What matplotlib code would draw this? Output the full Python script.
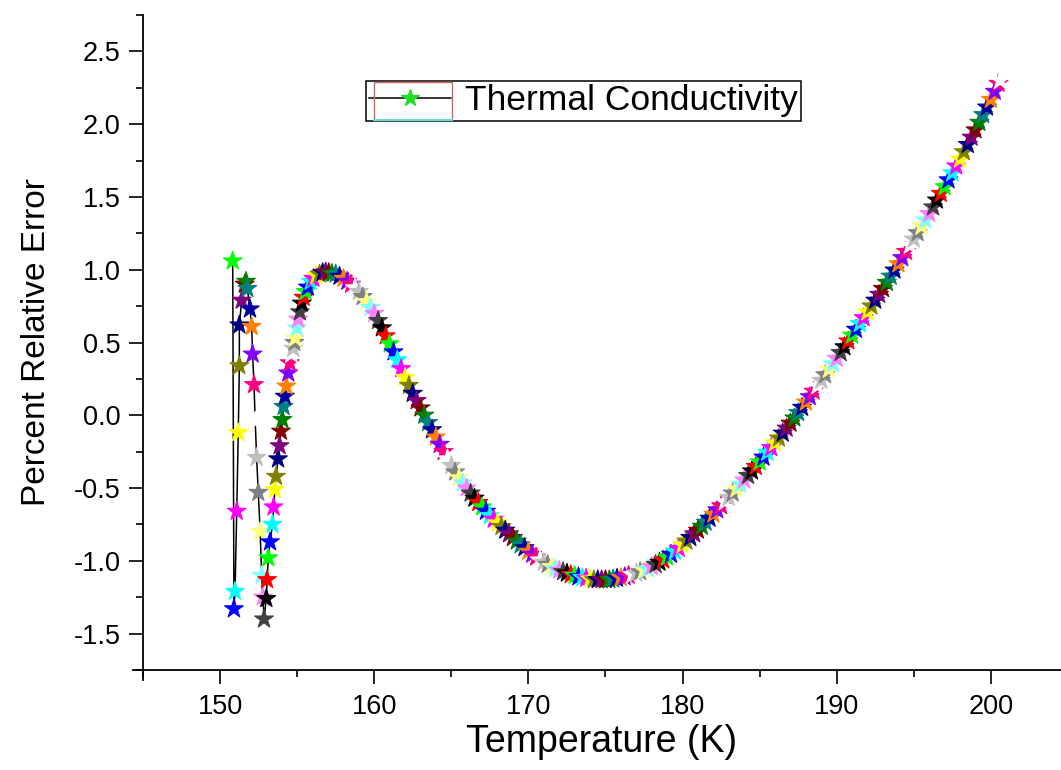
import matplotlib
matplotlib.use('Agg')
import matplotlib.pyplot as plt
from matplotlib.ticker import MultipleLocator
from matplotlib.lines import Line2D
from matplotlib.patches import Rectangle

plt.rcParams['font.family'] = ['Liberation Sans', 'DejaVu Sans']
plt.rcParams['axes.unicode_minus'] = False

# temperature (K) and percent relative error, in the order the points were recorded
temp = [
    150.82, 150.90, 150.97, 151.08, 151.18, 151.25, 151.25, 151.40, 151.60, 151.68,
    151.77, 151.94, 152.05, 152.11, 152.20, 152.28, 152.37, 152.48, 152.60, 152.70,
    152.78, 152.85, 153.00, 153.05,
    153.13, 153.24, 153.40, 153.47, 153.56, 153.63, 153.76, 153.86, 153.95, 154.04,
    154.12, 154.20, 154.30, 154.42, 154.52, 154.62, 154.75, 154.82, 154.88, 154.98,
    155.07, 155.18, 155.30, 155.42, 155.55, 155.70, 155.88, 156.05, 156.25, 156.45,
    156.65, 156.85, 157.05,
    157.25, 157.50, 157.75, 158.00, 158.25, 158.50, 158.75, 159.00,
    159.25, 159.50, 159.75, 160.00, 160.25, 160.50, 160.75, 161.00,
    161.25, 161.50, 161.75, 162.00, 162.25, 162.50, 162.75, 163.00,
    163.25, 163.50, 163.75, 164.00, 164.25, 164.50, 164.75, 165.00,
    165.25, 165.50, 165.75, 166.00, 166.25, 166.50, 166.75, 167.00,
    167.25, 167.50, 167.75, 168.00, 168.25, 168.50, 168.75, 169.00,
    169.25, 169.50, 169.75, 170.00, 170.25, 170.50, 170.75, 171.00,
    171.25, 171.50, 171.75, 172.00, 172.25, 172.50, 172.75, 173.00,
    173.25, 173.50, 173.75, 174.00, 174.25, 174.50, 174.75, 175.00,
    175.25, 175.50, 175.75, 176.00, 176.25, 176.50, 176.75, 177.00,
    177.25, 177.50, 177.75, 178.00, 178.25, 178.50, 178.75, 179.00,
    179.25, 179.50, 179.75, 180.00, 180.25, 180.50, 180.75, 181.00,
    181.25, 181.50, 181.75, 182.00, 182.25, 182.50, 182.75, 183.00,
    183.25, 183.50, 183.75, 184.00, 184.25, 184.50, 184.75, 185.00,
    185.25, 185.50, 185.75, 186.00, 186.25, 186.50, 186.75, 187.00,
    187.25, 187.50, 187.75, 188.00, 188.25, 188.50, 188.75, 189.00,
    189.25, 189.50, 189.75, 190.00, 190.25, 190.50, 190.75, 191.00,
    191.25, 191.50, 191.75, 192.00, 192.25, 192.50, 192.75, 193.00,
    193.25, 193.50, 193.75, 194.00, 194.25, 194.50, 194.75, 195.00,
    195.25, 195.50, 195.75, 196.00, 196.25, 196.50, 196.75, 197.00,
    197.25, 197.50, 197.75, 198.00, 198.25, 198.50, 198.75, 199.00,
    199.25, 199.50, 199.75, 200.00, 200.25, 200.50, 200.60,
]
err = [
    1.06, -1.33, -1.21, -0.66, -0.12, 0.34, 0.62, 0.79, 0.90, 0.92,
    0.87, 0.73, 0.61, 0.42, 0.21, -0.04, -0.29, -0.53, -0.80, -1.10,
    -1.25, -1.40, -1.26, -1.13,
    -0.98, -0.87, -0.75, -0.63, -0.51, -0.42, -0.30, -0.21, -0.11, -0.03,
    0.06, 0.13, 0.20, 0.29, 0.36, 0.42, 0.46, 0.50, 0.53, 0.60,
    0.66, 0.71, 0.77, 0.81, 0.85, 0.88, 0.92, 0.94, 0.96, 0.97,
    0.98, 0.985, 0.98,
    0.975, 0.97, 0.955, 0.94, 0.92, 0.90, 0.875, 0.85,
    0.815, 0.78, 0.74, 0.70, 0.65, 0.60, 0.545, 0.49,
    0.435, 0.38, 0.32, 0.26, 0.205, 0.15, 0.10, 0.05,
    0.00, -0.05, -0.10, -0.15, -0.20, -0.25, -0.30, -0.345,
    -0.39, -0.43, -0.465, -0.50, -0.535, -0.57, -0.60, -0.63,
    -0.66, -0.69, -0.715, -0.74, -0.765, -0.79, -0.815, -0.84,
    -0.865, -0.89, -0.91, -0.935, -0.955, -0.975, -0.995, -1.01,
    -1.025, -1.04, -1.055, -1.065, -1.075, -1.085, -1.095, -1.10,
    -1.11, -1.115, -1.12, -1.125, -1.13, -1.13, -1.13, -1.13,
    -1.13, -1.125, -1.12, -1.115, -1.11, -1.10, -1.095, -1.085,
    -1.075, -1.065, -1.055, -1.04, -1.025, -1.01, -0.995, -0.975,
    -0.955, -0.935, -0.915, -0.89, -0.865, -0.84, -0.815, -0.79,
    -0.763, -0.735, -0.708, -0.68, -0.65, -0.622, -0.594, -0.565,
    -0.535, -0.505, -0.475, -0.445, -0.414, -0.383, -0.352, -0.32,
    -0.288, -0.255, -0.223, -0.19, -0.157, -0.123, -0.089, -0.055,
    -0.019, 0.018, 0.054, 0.09, 0.127, 0.165, 0.203, 0.24,
    0.278, 0.315, 0.353, 0.39, 0.43, 0.47, 0.51, 0.55,
    0.59, 0.63, 0.67, 0.71, 0.75, 0.79, 0.83, 0.87,
    0.912, 0.955, 0.997, 1.04, 1.082, 1.125, 1.167, 1.21,
    1.254, 1.298, 1.341, 1.385, 1.431, 1.478, 1.524, 1.57,
    1.617, 1.665, 1.712, 1.76, 1.81, 1.86, 1.91, 1.96,
    2.012, 2.065, 2.117, 2.17, 2.225, 2.28, 2.30,
]

# Origin's incrementing colour list, one colour per point
palette = ['#000000', '#ff0000', '#00ff00', '#0000ff', '#00ffff', '#ff00ff',
           '#ffff00', '#808000', '#000080', '#800080', '#800000', '#008000',
           '#008080', '#0000a0', '#ff8000', '#8000ff', '#ff0080', '#ffffff',
           '#c0c0c0', '#808080', '#ffff80', '#80ffff', '#ff80ff', '#404040']
pt_colors = [palette[(i + 2) % len(palette)] for i in range(len(temp))]

fig = plt.figure(figsize=(10.61, 7.70), dpi=100)
ax = fig.add_axes([143 / 1061, 100 / 770, 918 / 1061, 655 / 770])

ax.plot(temp, err, color='k', lw=1.1, zorder=1)
ax.scatter(temp, err, marker='*', s=200, c=pt_colors, edgecolors=pt_colors,
           linewidths=0.8, zorder=2)

ax.set_xlim(145, 204.55)
ax.set_ylim(-1.75, 2.75)
ax.xaxis.set_major_locator(MultipleLocator(10))
ax.xaxis.set_minor_locator(MultipleLocator(5))
ax.yaxis.set_major_locator(MultipleLocator(0.5))
ax.yaxis.set_minor_locator(MultipleLocator(0.25))
ax.yaxis.set_major_formatter(plt.FormatStrFormatter('%.1f'))

for side in ['top', 'right']:
    ax.spines[side].set_visible(False)
for side in ['left', 'bottom']:
    ax.spines[side].set_linewidth(1.3)
# axis lines run a little past the corner where they meet
ax.spines['bottom'].set_bounds(144.35, 204.55)
ax.spines['left'].set_bounds(-1.82, 2.75)

ax.tick_params(which='major', direction='out', length=10, width=1.2,
               labelsize=19.5, colors='k')
ax.tick_params(which='minor', direction='out', length=5, width=1.2)
ax.tick_params(axis='x', pad=7)
ax.tick_params(axis='y', pad=6)

ax.set_xlabel('Temperature (K)', fontsize=27, labelpad=3)
ax.set_ylabel('Percent Relative Error', fontsize=24, labelpad=16)

proxy = Line2D([], [], color='k', lw=1.1, marker='*', markersize=13,
               markerfacecolor='#22dd22', markeredgecolor='#22dd22')
leg = ax.legend([proxy], ['Thermal Conductivity'], loc='center',
                bbox_to_anchor=(0.48, 0.869), fontsize=25.5, frameon=True,
                fancybox=False, framealpha=1, edgecolor='k', borderpad=0.1,
                handlelength=2.3, handletextpad=0.4, borderaxespad=0)
leg.get_frame().set_linewidth(1.1)

# thin coloured box around the legend symbol
fig.canvas.draw()
fb = leg.get_frame().get_window_extent()
tb = leg.get_texts()[0].get_window_extent()
W, H = fig.bbox.width, fig.bbox.height
x0, x1 = fb.x0 + 8, tb.x0 - 13
fig.add_artist(Rectangle((x0 / W, (fb.y0 + 1) / H), (x1 - x0) / W,
                         (fb.height - 2) / H, transform=fig.transFigure,
                         fill=False, edgecolor='#cc6666', lw=1.0))
fig.add_artist(Line2D([x0 / W, x1 / W], [(fb.y0 + 1) / H] * 2,
                      transform=fig.transFigure, color='#66dddd', lw=1.5))

fig.savefig('out.png', dpi=100)
